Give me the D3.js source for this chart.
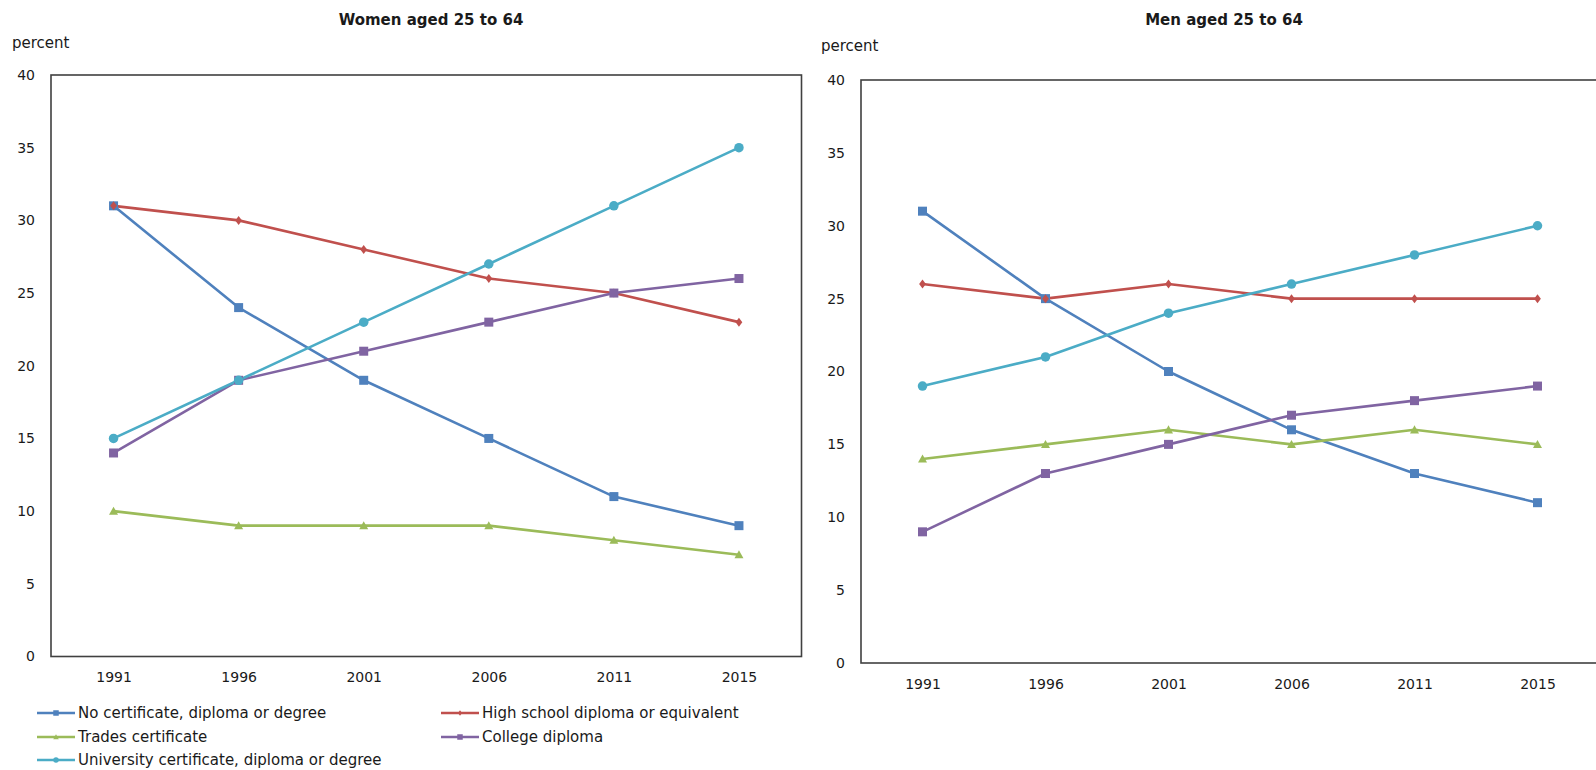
<!DOCTYPE html>
<html>
<head>
<meta charset="utf-8">
<script src="https://cdn.jsdelivr.net/npm/d3@7"></script>
<style>
  html, body { margin: 0; padding: 0; background: #fff; }
  svg { display: block; }
  text { font-family: "DejaVu Sans", Verdana, sans-serif; fill: #1a1a1a; }
</style>
</head>
<body>
<svg id="chart" width="1596" height="770"></svg>
<script>
// ---- data ----
const years = ["1991", "1996", "2001", "2006", "2011", "2015"];
const yTicks = [0, 5, 10, 15, 20, 25, 30, 35, 40];
const seriesNames = [
  "No certificate, diploma or degree",
  "High school diploma or equivalent",
  "Trades certificate",
  "College diploma",
  "University certificate, diploma or degree"
];
const panelTitles = ["Women aged 25 to 64", "Men aged 25 to 64"];
const yAxisLabel = "percent";

const womenNoCert     = [31, 24, 19, 15, 11, 9];
const womenHighSchool = [31, 30, 28, 26, 25, 23];
const womenTrades     = [10, 9, 9, 9, 8, 7];
const womenCollege    = [14, 19, 21, 23, 25, 26];
const womenUniversity = [15, 19, 23, 27, 31, 35];

const menNoCert     = [31, 25, 20, 16, 13, 11];
const menHighSchool = [26, 25, 26, 25, 25, 25];
const menTrades     = [14, 15, 16, 15, 16, 15];
const menCollege    = [9, 13, 15, 17, 18, 19];
const menUniversity = [19, 21, 24, 26, 28, 30];

// ---- styles ----
const colors = ["#4F81BD", "#C0504D", "#9BBB59", "#8064A2", "#4BACC6"];
const markers = ["square", "diamond", "triangle", "square", "circle"];

const panels = [
  { title: panelTitles[0], data: [womenNoCert, womenHighSchool, womenTrades, womenCollege, womenUniversity],
    x0: 51, x1: 801.5, y0: 75, y1: 656.5, titleX: 431, titleY: 20, pctX: 12, pctY: 43 },
  { title: panelTitles[1], data: [menNoCert, menHighSchool, menTrades, menCollege, menUniversity],
    x0: 861, x1: 1599, y0: 80, y1: 663, titleX: 1224, titleY: 20, pctX: 821, pctY: 46 }
];

const svg = d3.select("#chart");

function drawMarker(g, type, cx, cy, color, size) {
  if (type === "square") {
    g.append("rect").attr("x", cx - size / 2).attr("y", cy - size / 2)
      .attr("width", size).attr("height", size).attr("fill", color);
  } else if (type === "circle") {
    g.append("circle").attr("cx", cx).attr("cy", cy).attr("r", size / 2).attr("fill", color);
  } else if (type === "diamond") {
    const s = size / 2;
    g.append("path").attr("d", `M${cx},${cy - s}L${cx + s * 0.75},${cy}L${cx},${cy + s}L${cx - s * 0.75},${cy}Z`)
      .attr("fill", color);
  } else if (type === "triangle") {
    const s = size / 2;
    g.append("path").attr("d", `M${cx},${cy - s}L${cx + s},${cy + s * 0.8}L${cx - s},${cy + s * 0.8}Z`)
      .attr("fill", color);
  }
}

panels.forEach(p => {
  const x = d3.scalePoint().domain(years).range([p.x0, p.x1]).padding(0.5);
  const y = d3.scaleLinear().domain([0, 40]).range([p.y1, p.y0]);
  const g = svg.append("g");

  // title
  g.append("text").attr("x", p.titleX).attr("y", p.titleY).attr("text-anchor", "middle")
    .attr("dominant-baseline", "central").attr("font-weight", "bold").attr("font-size", "15px")
    .text(p.title);
  // percent label
  g.append("text").attr("x", p.pctX).attr("y", p.pctY).attr("dominant-baseline", "central")
    .attr("font-size", "15px").text(yAxisLabel);

  // y axis
  const ya = g.append("g").attr("transform", `translate(${p.x0},0)`)
    .call(d3.axisLeft(y).tickValues(yTicks).tickSize(0).tickPadding(16));
  ya.select(".domain").remove();
  ya.selectAll("text").attr("font-size", "14px").attr("font-family", "DejaVu Sans, Verdana, sans-serif").attr("fill", "#1a1a1a");

  // x axis
  const xa = g.append("g").attr("transform", `translate(0,${p.y1})`)
    .call(d3.axisBottom(x).tickSize(0).tickPadding(16));
  xa.select(".domain").remove();
  xa.selectAll("text").attr("font-size", "14px").attr("font-family", "DejaVu Sans, Verdana, sans-serif").attr("fill", "#1a1a1a");

  // plot box
  g.append("rect").attr("x", p.x0).attr("y", p.y0).attr("width", p.x1 - p.x0).attr("height", p.y1 - p.y0)
    .attr("fill", "none").attr("stroke", "#404040").attr("stroke-width", 1.6);

  // lines
  const line = d3.line().x((d, i) => x(years[i])).y(d => y(d));
  p.data.forEach((vals, si) => {
    g.append("path").datum(vals).attr("d", line).attr("fill", "none")
      .attr("stroke", colors[si]).attr("stroke-width", 2.6).attr("stroke-linejoin", "round");
  });
  // markers
  p.data.forEach((vals, si) => {
    const mg = g.append("g");
    vals.forEach((v, i) => {
      const sz = markers[si] === "diamond" ? 9 : (markers[si] === "circle" ? 9.5 : 9);
      drawMarker(mg, markers[si], x(years[i]), y(v), colors[si], sz);
    });
  });
});

// ---- legend ----
const legendPos = [
  { lx: 37, ty: 713 }, { lx: 441, ty: 713 },
  { lx: 37, ty: 737 }, { lx: 441, ty: 737 },
  { lx: 37, ty: 760 }
];
const lg = svg.append("g");
seriesNames.forEach((name, i) => {
  const pos = legendPos[i];
  lg.append("line").attr("x1", pos.lx).attr("x2", pos.lx + 38).attr("y1", pos.ty).attr("y2", pos.ty)
    .attr("stroke", colors[i]).attr("stroke-width", 2.6);
  drawMarker(lg, markers[i], pos.lx + 19, pos.ty, colors[i], 5.5);
  lg.append("text").attr("x", pos.lx + 41).attr("y", pos.ty).attr("dominant-baseline", "central")
    .attr("font-size", "15px").text(name);
});
</script>
</body>
</html>
